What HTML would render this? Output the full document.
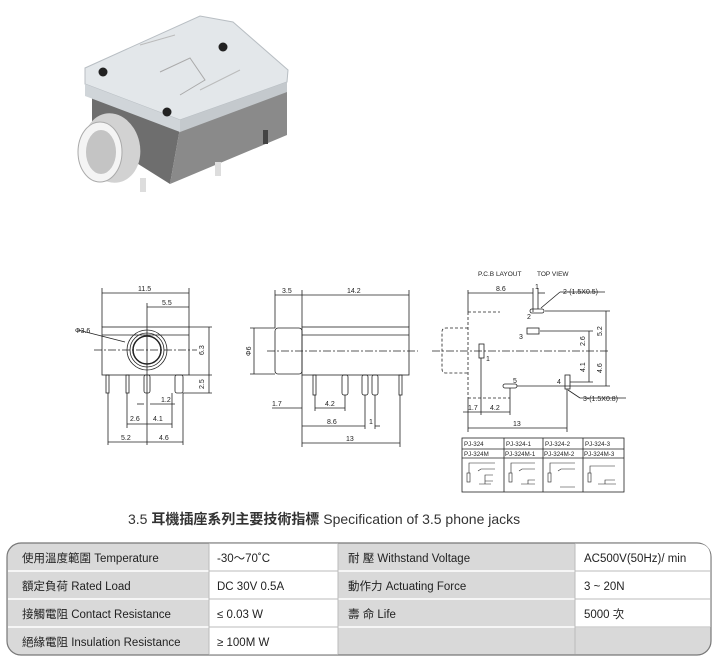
<!DOCTYPE html>
<html><head><meta charset="utf-8"><style>
body{margin:0;background:#fff;width:720px;height:661px;overflow:hidden}
svg{display:block}
text{font-family:"Liberation Sans","Noto Sans CJK TC",sans-serif}
</style></head><body>
<svg width="720" height="661" viewBox="0 0 720 661" xmlns="http://www.w3.org/2000/svg">
<!-- photo -->
<g>
<polygon points="92,86 180,128 170,184 92,135" fill="#6e6e6e"/>
<polygon points="180,128 287,80 287,135 170,184" fill="#8a8a8a"/>
<polygon points="85,68 200,16 233,22 288,70 287,82 180,120 85,84" fill="#e3e7ea" stroke="#b8bec3" stroke-width="1"/>
<polygon points="85,84 180,120 180,132 85,96" fill="#d0d5d9"/>
<polygon points="180,120 287,82 287,92 180,132" fill="#c4c9cd"/>
<circle cx="103" cy="72" r="4.5" fill="#222"/><circle cx="223" cy="47" r="4.5" fill="#222"/><circle cx="167" cy="112" r="4.5" fill="#222"/>
<path d="M160,72 L190,58 L205,80 L180,95" fill="none" stroke="#aaa"/>
<path d="M140,45 L175,35 M200,90 L240,70" fill="none" stroke="#bbb"/>
<rect x="140" y="178" width="6" height="14" fill="#ddd"/><rect x="215" y="162" width="6" height="14" fill="#ddd"/><rect x="263" y="130" width="5" height="14" fill="#444"/>
<ellipse cx="112" cy="148" rx="28" ry="35" fill="#d2d2d2" transform="rotate(-12 112 148)"/>
<ellipse cx="100" cy="152" rx="22" ry="30" fill="#f4f4f4" stroke="#aaa"/>
<ellipse cx="101" cy="152" rx="15" ry="22" fill="#c4c4c4"/>
</g>
<g stroke="#222" stroke-width="0.8" fill="none">
<!-- front view -->
<rect x="102" y="327" width="87" height="48"/>
<line x1="102" y1="335" x2="189" y2="335"/>
<circle cx="147" cy="350" r="20"/><circle cx="147" cy="350" r="17"/><circle cx="147" cy="350" r="14" stroke-width="1.5"/>
<line x1="94" y1="350" x2="197" y2="350" stroke-dasharray="8,2,2,2"/>
<rect x="106" y="375" width="3" height="18"/><rect x="126" y="375" width="3" height="18"/><rect x="144" y="375" width="6" height="18" rx="2"/><rect x="175" y="375" width="8" height="18" rx="2"/>
<line x1="102" y1="293" x2="189" y2="293"/><line x1="102" y1="288" x2="102" y2="327"/><line x1="189" y1="288" x2="189" y2="327"/>
<line x1="147" y1="307" x2="189" y2="307"/><line x1="147" y1="303" x2="147" y2="445"/>
<line x1="189" y1="327" x2="212" y2="327"/><line x1="189" y1="375" x2="212" y2="375"/><line x1="183" y1="393" x2="212" y2="393"/>
<line x1="209" y1="327" x2="209" y2="393"/>
<line x1="78" y1="330" x2="125" y2="342"/>
<line x1="137" y1="404" x2="144" y2="404"/><line x1="150" y1="404" x2="175" y2="404"/>
<line x1="127" y1="393" x2="127" y2="428"/><line x1="183" y1="393" x2="183" y2="445"/><line x1="108" y1="393" x2="108" y2="445"/><line x1="172" y1="393" x2="172" y2="428"/>
<line x1="127" y1="424" x2="172" y2="424"/><line x1="108" y1="442" x2="183" y2="442"/>
<!-- side view -->
<rect x="275" y="328" width="27" height="46" rx="3"/>
<rect x="302" y="327" width="107" height="48"/><line x1="302" y1="335" x2="409" y2="335"/>
<line x1="267" y1="351" x2="418" y2="351" stroke-dasharray="8,2,2,2"/>
<rect x="313" y="375" width="3" height="20"/><rect x="342" y="375" width="6" height="20" rx="2"/><rect x="362" y="375" width="6" height="20" rx="2"/><rect x="372" y="375" width="6" height="20" rx="2"/><rect x="399" y="375" width="3" height="20"/>
<line x1="275" y1="295" x2="409" y2="295"/><line x1="275" y1="290" x2="275" y2="328"/><line x1="302" y1="290" x2="302" y2="327"/><line x1="409" y1="290" x2="409" y2="327"/>
<line x1="254" y1="328" x2="254" y2="374"/><line x1="250" y1="328" x2="275" y2="328"/><line x1="250" y1="374" x2="275" y2="374"/>
<line x1="272" y1="408" x2="302" y2="408"/><line x1="302" y1="375" x2="302" y2="447"/>
<line x1="315" y1="408" x2="345" y2="408"/><line x1="315" y1="395" x2="315" y2="411"/><line x1="345" y1="395" x2="345" y2="411"/>
<line x1="302" y1="426" x2="365" y2="426"/><line x1="365" y1="395" x2="365" y2="429"/><line x1="375" y1="395" x2="375" y2="429"/><line x1="375" y1="426" x2="380" y2="426"/>
<line x1="302" y1="443" x2="400" y2="443"/><line x1="400" y1="395" x2="400" y2="447"/>
<!-- pcb -->
<g stroke-dasharray="3,2"><line x1="468" y1="312" x2="468" y2="398"/><line x1="468" y1="312" x2="500" y2="312"/><path d="M468,328 H446 Q442,328 442,332 V369 Q442,373 446,373 H468"/><line x1="468" y1="398" x2="510" y2="398"/></g>
<line x1="432" y1="351" x2="610" y2="351" stroke-dasharray="8,2,2,2"/>
<rect x="479" y="344" width="5" height="14"/><rect x="530" y="309" width="14" height="4" rx="2"/><rect x="527" y="328" width="12" height="6"/><rect x="565" y="375" width="5" height="14"/><rect x="503" y="384" width="14" height="4" rx="2"/>
<line x1="468" y1="293" x2="533" y2="293"/><line x1="468" y1="290" x2="468" y2="312"/><line x1="533" y1="288" x2="533" y2="312"/><line x1="538" y1="288" x2="538" y2="309"/><line x1="538" y1="293" x2="545" y2="293"/>
<line x1="541" y1="308" x2="560" y2="292"/><line x1="560" y1="292" x2="605" y2="292"/>
<line x1="545" y1="311" x2="610" y2="311"/><line x1="540" y1="331" x2="593" y2="331"/><line x1="517" y1="386" x2="610" y2="386"/><line x1="570" y1="382" x2="593" y2="382"/>
<line x1="606" y1="311" x2="606" y2="386"/><line x1="589" y1="331" x2="589" y2="382"/>
<line x1="568" y1="390" x2="580" y2="398"/><line x1="580" y1="398" x2="626" y2="398"/>
<line x1="481" y1="358" x2="481" y2="415"/><line x1="510" y1="388" x2="510" y2="415"/><line x1="463" y1="412" x2="510" y2="412"/>
<line x1="468" y1="398" x2="468" y2="432"/><line x1="567" y1="389" x2="567" y2="432"/><line x1="468" y1="428" x2="567" y2="428"/>
<!-- pin table -->
<rect x="462" y="438" width="162" height="54"/><line x1="462" y1="449" x2="624" y2="449"/><line x1="462" y1="458" x2="624" y2="458"/>
<line x1="504" y1="438" x2="504" y2="492"/><line x1="543" y1="438" x2="543" y2="492"/><line x1="583" y1="438" x2="583" y2="492"/>
<g stroke-width="0.6">
<rect x="467" y="473" width="3" height="9"/><path d="M469,473 V463 H495 M478,471 l3,-2 H495 M479,484 h12 M485,484 v-9 h8 M485,481 h8"/>
<rect x="509" y="473" width="3" height="9"/><path d="M511,473 V463 H535 M519,471 l3,-2 H535 M521,484 h14 M528,484 v-4 h7"/>
<rect x="548" y="473" width="3" height="9"/><path d="M550,473 V463 H575 M558,471 l3,-2 H575 M560,487 h15"/>
<rect x="588" y="473" width="3" height="9"/><path d="M590,473 V466 H615 M598,484 h18 M605,484 v-4 h10"/>
</g>
</g>
<g font-size="7" fill="#222">
<text x="138" y="291">11.5</text><text x="162" y="305">5.5</text><text x="75" y="333">Φ3.6</text>
<text x="204" y="355" transform="rotate(-90 204 355)">6.3</text><text x="204" y="389" transform="rotate(-90 204 389)">2.5</text>
<text x="161" y="402">1.2</text><text x="130" y="421">2.6</text><text x="153" y="421">4.1</text><text x="121" y="440">5.2</text><text x="159" y="440">4.6</text>
<text x="282" y="293">3.5</text><text x="347" y="293">14.2</text><text x="251" y="356" transform="rotate(-90 251 356)">Φ6</text>
<text x="272" y="406">1.7</text><text x="325" y="406">4.2</text><text x="327" y="424">8.6</text><text x="369" y="424">1</text><text x="346" y="441">13</text>
<text x="478" y="276" font-size="6.5">P.C.B LAYOUT</text><text x="537" y="276" font-size="6.5">TOP VIEW</text>
<text x="496" y="291">8.6</text><text x="535" y="289">1</text><text x="563" y="294">2-(1.5X0.5)</text>
<text x="527" y="319">2</text><text x="519" y="339">3</text><text x="486" y="361">1</text><text x="557" y="384">4</text><text x="513" y="383">5</text>
<text x="602" y="336" transform="rotate(-90 602 336)">5.2</text><text x="585" y="346" transform="rotate(-90 585 346)">2.6</text><text x="585" y="372" transform="rotate(-90 585 372)">4.1</text><text x="602" y="373" transform="rotate(-90 602 373)">4.6</text>
<text x="583" y="401">3-(1.5X0.8)</text><text x="468" y="410">1.7</text><text x="490" y="410">4.2</text><text x="513" y="426">13</text>
<g font-size="6.2"><text x="464" y="446">PJ-324</text><text x="506" y="446">PJ-324-1</text><text x="545" y="446">PJ-324-2</text><text x="585" y="446">PJ-324-3</text>
<text x="464" y="456">PJ-324M</text><text x="505" y="456">PJ-324M-1</text><text x="544" y="456">PJ-324M-2</text><text x="584" y="456">PJ-324M-3</text></g>
</g>
<text x="128" y="524" font-size="14" fill="#333"><tspan>3.5 </tspan><tspan font-weight="bold">耳機插座系列主要技術指標</tspan><tspan> Specification of 3.5 phone jacks</tspan></text>
<!-- table -->
<rect x="7" y="543" width="704" height="112" rx="14" fill="#d9d9d9" stroke="#777" stroke-width="1.2"/>
<rect x="209" y="543.6" width="129" height="110.8" fill="#fff"/>
<path d="M575,543.6 H697 Q710.4,543.6 710.4,557 V627 H575Z" fill="#fff"/>
<g stroke="#fff" stroke-width="1.5"><line x1="8" y1="571" x2="710" y2="571"/><line x1="8" y1="599" x2="710" y2="599"/><line x1="8" y1="627" x2="710" y2="627"/></g>
<g stroke="#bbb" stroke-width="1"><line x1="209" y1="544" x2="209" y2="654"/><line x1="338" y1="544" x2="338" y2="654"/><line x1="575" y1="544" x2="575" y2="654"/><line x1="209" y1="571" x2="338" y2="571"/><line x1="209" y1="599" x2="338" y2="599"/><line x1="209" y1="627" x2="338" y2="627"/><line x1="575" y1="571" x2="710" y2="571"/><line x1="575" y1="599" x2="710" y2="599"/><line x1="575" y1="627" x2="710" y2="627"/></g>
<g font-size="11.5" fill="#222">
<text x="22" y="562">使用溫度範圍 Temperature</text><text x="22" y="590">額定負荷  Rated Load</text><text x="22" y="618">接觸電阻  Contact Resistance</text><text x="22" y="646">絕緣電阻  Insulation Resistance</text>
<text x="217" y="562">-30～70˚C</text><text x="217" y="590">DC  30V  0.5A</text><text x="217" y="618">≤ 0.03 W</text><text x="217" y="646">≥ 100M W</text>
<text x="348" y="562">耐   壓  Withstand Voltage</text><text x="348" y="590">動作力  Actuating Force</text><text x="348" y="618">壽   命  Life</text>
<text x="584" y="562">AC500V(50Hz)/ min</text><text x="584" y="590">3 ~ 20N</text><text x="584" y="618">5000 次</text>
</g>
</svg>
</body></html>
